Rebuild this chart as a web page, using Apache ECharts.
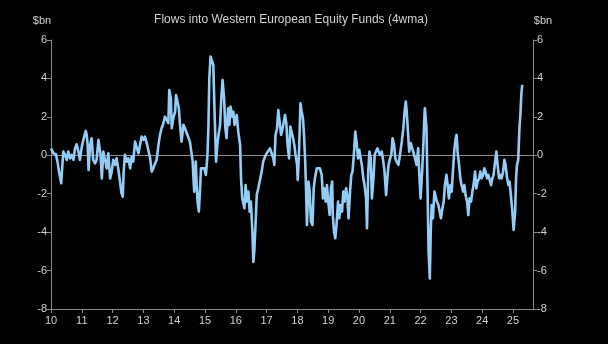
<!DOCTYPE html>
<html>
<head>
<meta charset="utf-8">
<script src="https://cdn.jsdelivr.net/npm/echarts@6/dist/echarts.min.js"></script>
<style>
  html, body { margin: 0; padding: 0; background: #000; }
  #chart { width: 608px; height: 344px; }
</style>
</head>
<body>
<div id="chart"></div>
<script>
// Weekly fund flows (4-week moving average), $bn, sampled by decimal year
const years = [
  2010.00, 2010.08, 2010.16, 2010.22, 2010.26, 2010.33, 2010.37, 2010.40, 2010.46, 2010.51,
  2010.56, 2010.62, 2010.67, 2010.73, 2010.78, 2010.83, 2010.89, 2010.94, 2011.00, 2011.05,
  2011.13, 2011.16, 2011.19, 2011.22, 2011.27, 2011.32, 2011.37, 2011.43, 2011.48, 2011.54,
  2011.57, 2011.61, 2011.65, 2011.70, 2011.75, 2011.81, 2011.86, 2011.92, 2011.97, 2012.02,
  2012.08, 2012.13, 2012.19, 2012.24, 2012.29, 2012.33, 2012.36, 2012.40, 2012.46, 2012.51,
  2012.57, 2012.62, 2012.67, 2012.73, 2012.78, 2012.84, 2012.89, 2012.94,
  2013.00, 2013.05, 2013.11, 2013.16, 2013.22, 2013.27, 2013.32, 2013.38, 2013.43, 2013.49,
  2013.54, 2013.59, 2013.65, 2013.70, 2013.76, 2013.81, 2013.84, 2013.89, 2013.92, 2013.97,
  2014.03, 2014.06, 2014.10, 2014.15, 2014.19, 2014.24, 2014.30, 2014.35, 2014.41, 2014.46,
  2014.51, 2014.57, 2014.60, 2014.62, 2014.65, 2014.70, 2014.73, 2014.76, 2014.80, 2014.84,
  2014.87, 2014.93, 2014.98, 2015.03, 2015.08, 2015.11, 2015.14, 2015.18, 2015.23, 2015.27,
  2015.31, 2015.36, 2015.40, 2015.44, 2015.49, 2015.53, 2015.57, 2015.62, 2015.66, 2015.70,
  2015.75, 2015.79, 2015.83, 2015.88, 2015.92, 2015.96, 2016.01,
  2016.03, 2016.08, 2016.14, 2016.17, 2016.21, 2016.28, 2016.32, 2016.36, 2016.41, 2016.45,
  2016.49, 2016.54, 2016.57, 2016.60, 2016.65, 2016.68, 2016.73, 2016.79, 2016.84, 2016.89,
  2016.95, 2017.00, 2017.06, 2017.11, 2017.16, 2017.22, 2017.25, 2017.29, 2017.34, 2017.38,
  2017.42, 2017.47, 2017.51, 2017.55, 2017.60, 2017.64, 2017.68, 2017.73, 2017.77, 2017.81,
  2017.86, 2017.90, 2017.94, 2017.99, 2018.01, 2018.05, 2018.10, 2018.14, 2018.18, 2018.21,
  2018.25, 2018.28, 2018.31, 2018.36, 2018.40, 2018.44, 2018.49, 2018.53, 2018.57, 2018.63,
  2018.68, 2018.73, 2018.79, 2018.83, 2018.87, 2018.92, 2018.96, 2019.00, 2019.05, 2019.09,
  2019.13,
  2019.15, 2019.19, 2019.23, 2019.27, 2019.32, 2019.36, 2019.40, 2019.45, 2019.49, 2019.53,
  2019.58, 2019.62, 2019.66, 2019.71, 2019.75, 2019.79, 2019.84, 2019.88, 2019.92, 2019.97,
  2020.01, 2020.05, 2020.10, 2020.14, 2020.18, 2020.23, 2020.26, 2020.30, 2020.34, 2020.38,
  2020.42, 2020.47, 2020.51, 2020.55, 2020.60, 2020.64, 2020.68, 2020.74, 2020.79, 2020.83,
  2020.88, 2020.92, 2020.96, 2021.01, 2021.05, 2021.09, 2021.14, 2021.18, 2021.22, 2021.28,
  2021.33, 2021.39, 2021.44, 2021.48, 2021.52, 2021.55, 2021.59, 2021.63, 2021.68, 2021.72,
  2021.76, 2021.82, 2021.87, 2021.92, 2021.96, 2022.00, 2022.05, 2022.09, 2022.13,
  2022.14, 2022.19, 2022.23, 2022.26, 2022.30, 2022.33, 2022.36, 2022.40, 2022.45, 2022.49,
  2022.53, 2022.58, 2022.62, 2022.66, 2022.71, 2022.75, 2022.79, 2022.84, 2022.88, 2022.92,
  2022.97, 2023.01, 2023.05, 2023.10, 2023.14, 2023.17, 2023.20, 2023.25, 2023.29, 2023.33,
  2023.38, 2023.42, 2023.46, 2023.51, 2023.55, 2023.59, 2023.64, 2023.68, 2023.72, 2023.77,
  2023.81, 2023.85, 2023.90, 2023.94, 2023.98, 2024.03, 2024.07, 2024.11, 2024.16, 2024.20,
  2024.24, 2024.29, 2024.33, 2024.37, 2024.42, 2024.46, 2024.50, 2024.55, 2024.59, 2024.63,
  2024.68, 2024.72, 2024.76, 2024.81, 2024.85, 2024.89, 2024.94, 2024.98, 2025.02, 2025.07,
  2025.10, 2025.13, 2025.17, 2025.21, 2025.24, 2025.27, 2025.30
];

const flows = [
  0.36, 0.10, 0.05, -0.42, -0.85, -1.46, -0.50, 0.19, 0.02, -0.24,
  0.19, -0.16, 0.02, -0.24, 0.36, 0.57, 0.19, -0.24, 0.45, 0.80,
  1.27, 1.06, 0.54, -0.76, 0.54, 0.89, -0.24, -0.42, -0.24, 0.80,
  0.89, 0.02, -1.20, 0.19, 0.10, -0.68, 0.10, -1.20, -0.85, -0.24,
  -0.50, -0.16, -0.76, -0.68, -1.98, -2.15, -0.85, 0.02, -0.33, -0.16,
  -0.68, -0.07, -0.33, 0.71, 0.63, 0.10, 0.54, 0.97,
  0.80, 0.97, 0.63, 0.54, -0.16, -0.85, -0.68, -0.42, -0.24, 0.54,
  1.06, 1.41, 1.67, 2.01, 1.84, 1.67, 3.40, 2.97, 1.41, 1.93,
  2.27, 3.14, 3.14, 2.45, 1.58, 0.71, 1.58, 1.41, 1.15, 1.06,
  0.71, 0.02, -0.33, -1.02, -1.89, -0.33, -1.55, -2.41, -2.93, -1.72,
  -0.68, -0.76, -0.68, -1.02, 0.02, 1.41, 4.01, 5.14, 5.23, 4.70,
  2.27, -0.33, 0.54, 1.06, 1.58, 2.97, 3.92, 2.97, 1.41, 0.89,
  2.45, 1.58, 2.53, 2.01, 2.27, 1.58, 1.93,
  2.10, 1.23, 0.54, -1.20, -2.24, -2.76, -1.55, -2.41, -1.89, -2.93,
  -2.41, -3.99, -5.55, -5.02, -3.28, -2.07, -1.72, -1.63, -0.85, -0.33,
  -0.07, 0.10, 0.19, 0.36, 0.45, -0.16, -0.50, 1.06, 1.41, 2.36,
  2.45, 1.06, 1.32, 1.41, 2.10, 1.67, 0.54, -0.16, 1.49, 1.23,
  0.89, 0.54, 0.02, -0.50, -1.28, 0.02, 2.71, 2.27, 1.93, 1.23,
  -0.16, -1.72, -3.63, -1.37, -1.89, -3.45, -3.63, -1.72, -1.20, -0.68,
  -0.59, -0.68, -1.02, -2.24, -1.72, -2.41, -1.55, -2.41, -3.11, -1.72,
  -1.37,
  -3.11, -3.98, -4.32, -3.63, -2.41, -3.28, -2.59, -2.93, -1.89, -2.41,
  -1.72, -2.07, -3.28, -1.89, -1.02, -0.85, 0.19, 1.23, 0.71, -0.16,
  0.28, 0.19, -0.59, -1.20, -1.55, -2.24, -3.80, -0.85, 0.19, -0.16,
  -2.24, -1.20, 0.02, 0.19, 0.36, 0.36, 0.02, 0.19, -0.33, -0.85,
  -2.07, -1.20, -0.50, -0.16, 0.02, 0.89, 0.54, -0.16, -0.33, -0.50,
  0.02, 0.71, 1.41, 2.27, 2.80, 2.27, 1.23, 0.19, 0.63, 0.54,
  0.19, -0.16, -0.50, 0.36, -1.02, -2.24, -0.85, 0.54, 2.27,
  2.45, 1.41, -2.07, -5.02, -6.41, -3.98, -2.59, -3.28, -1.89, -1.81,
  -2.41, -2.59, -2.93, -3.28, -2.76, -2.41, -1.55, -1.02, -1.55, -2.24,
  -1.55, -1.89, -0.85, 0.36, 0.89, 1.06, 0.19, -0.50, -1.20, -1.55,
  -1.89, -1.55, -2.07, -2.41, -3.11, -2.24, -2.41, -1.89, -1.55, -0.85,
  -1.72, -1.37, -1.20, -0.85, -1.20, -1.02, -0.68, -0.85, -1.20, -1.02,
  -1.02, -1.55, -1.20, -1.02, -0.33, 0.19, -0.50, -1.20, -1.02, -1.20,
  -0.85, -0.24, -0.50, -1.20, -1.55, -1.37, -2.24, -2.93, -3.89, -2.93,
  -1.20, -0.50, -0.24, 1.41, 2.10, 3.14, 3.66
];

const yearTicks = [2010, 2011, 2012, 2013, 2014, 2015, 2016, 2017,
                   2018, 2019, 2020, 2021, 2022, 2023, 2024, 2025];

const chartTitle = 'Flows into Western European Equity Funds (4wma)';
const unitLabel = '$bn';

const axisGrey = '#8a8a8a';
const textGrey = '#d2d2d2';
const lineBlue = '#93cdf6';
const fontFamily = '"Liberation Sans", Arial, sans-serif';

const chart = echarts.init(document.getElementById('chart'), null, { renderer: 'canvas' });

const valueAxis = (position) => ({
  type: 'value',
  position: position,
  min: -8,
  max: 6,
  interval: 2,
  splitLine: { show: false },
  axisLine: { show: true, lineStyle: { color: axisGrey, width: 1 } },
  axisTick: { show: true, length: 4, lineStyle: { color: axisGrey } },
  axisLabel: { color: textGrey, fontSize: 11, fontFamily: fontFamily, margin: 4 }
});

chart.setOption({
  backgroundColor: '#000000',
  animation: false,
  grid: { left: 51, right: 75, top: 40, bottom: 35 },
  xAxis: {
    type: 'value',
    min: 2010,
    max: 2025.65,
    splitLine: { show: false },
    axisLine: { show: true, onZero: false, lineStyle: { color: axisGrey, width: 1 } },
    axisTick: { show: true, length: 4, customValues: yearTicks, lineStyle: { color: axisGrey } },
    axisLabel: {
      customValues: yearTicks,
      color: textGrey,
      fontSize: 11,
      fontFamily: fontFamily,
      margin: 6,
      formatter: (v) => String(v).slice(2)
    }
  },
  yAxis: [valueAxis('left'), valueAxis('right')],
  graphic: [
    {
      type: 'text', x: 291, y: 14,
      style: { text: chartTitle, fill: textGrey, font: '12px ' + fontFamily, textAlign: 'center' }
    },
    {
      type: 'text', x: 42, y: 15,
      style: { text: unitLabel, fill: textGrey, font: '11px ' + fontFamily, textAlign: 'center' }
    },
    {
      type: 'text', x: 543, y: 15,
      style: { text: unitLabel, fill: textGrey, font: '11px ' + fontFamily, textAlign: 'center' }
    }
  ],
  series: [{
    type: 'line',
    data: years.map((y, i) => [y, flows[i]]),
    showSymbol: false,
    symbol: 'none',
    lineStyle: { color: lineBlue, width: 2.6, join: 'round' },
    z: 3,
    markLine: {
      silent: true,
      symbol: ['none', 'none'],
      label: { show: false },
      lineStyle: { color: axisGrey, type: 'solid', width: 1 },
      data: [{ yAxis: 0 }],
      z: 1
    }
  }]
});
</script>
</body>
</html>
